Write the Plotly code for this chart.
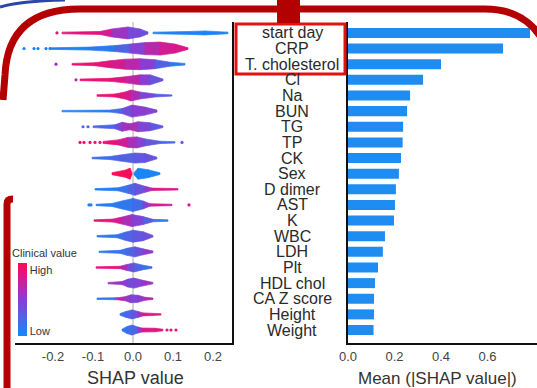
import plotly.graph_objects as go
from plotly.colors import sample_colorscale

W, H = 537, 388

features = ["start day", "CRP", "T. cholesterol", "Cl", "Na", "BUN", "TG", "TP", "CK", "Sex",
            "D dimer", "AST", "K", "WBC", "LDH", "Plt", "HDL chol", "CA Z score", "Height", "Weight"]
mean_abs_shap = [0.783, 0.667, 0.40, 0.323, 0.267, 0.254, 0.237, 0.235, 0.228, 0.219,
                 0.206, 0.202, 0.198, 0.159, 0.150, 0.129, 0.116, 0.112, 0.112, 0.110]

shap_ticks = [-0.2, -0.1, 0.0, 0.1, 0.2]
shap_ticktext = ["-0.2", "-0.1", "0.0", "0.1", "0.2"]
bar_ticks = [0.0, 0.2, 0.4, 0.6, 0.8]
bar_ticktext = ["0.0", "0.2", "0.4", "0.6", "0.8"]

# beeswarm outline knots per feature (SHAP value), None = gap
swarm_x = [
    [-0.1775, -0.0825, -0.0525, -0.0125, 0.0175, 0.0375, None, 0.05, 0.1425, 0.18, 0.2375],
    [-0.2075, -0.1075, -0.045, -0.0075, 0.03, 0.0675, 0.105, 0.1375],
    [-0.1525, -0.095, -0.0575, -0.02, 0.0175, 0.055, 0.0925, 0.13],
    [-0.1325, -0.0575, -0.02, 0.0175, 0.0425, 0.075],
    [-0.09, -0.045, -0.02, -0.005, 0.0175, 0.055, 0.0975],
    [-0.1775, -0.0575, -0.0275, -0.0025, 0.03, 0.06],
    [-0.10, -0.045, -0.0275, -0.0075, 0.0125, 0.0425, 0.075],
    [-0.075, -0.0375, -0.0125, 0.01, 0.03, 0.0675, 0.105],
    [-0.1025, -0.0575, -0.0325, 0.005, 0.03, 0.06],
    [-0.0525, -0.02, -0.0075, -0.0025, None, 0.0025, 0.0125, 0.0375, 0.0675],
    [-0.095, -0.0375, -0.0125, 0.005, 0.03, 0.0475, 0.1125],
    [-0.0925, -0.0525, -0.0275, 0.0, 0.025, 0.0425, 0.0975],
    [-0.0975, -0.05, -0.0275, -0.0025, 0.025, 0.05, 0.0875],
    [-0.09, -0.04, -0.02, 0.0, 0.025, 0.05],
    [-0.085, -0.0325, -0.015, 0.005, 0.025, 0.05],
    [-0.0925, -0.0325, -0.015, 0.0025, 0.0225, 0.0475],
    [-0.0625, -0.0275, -0.0125, 0.0025, 0.0225, 0.05],
    [-0.09, -0.045, -0.04, -0.02, -0.005, 0.0125, 0.03, 0.05],
    [-0.0325, -0.0175, -0.0025, 0.0125, 0.025, 0.07],
    [-0.0275, -0.015, -0.0025, 0.0125, 0.0225, 0.055, 0.075],
]
# half thickness of the swarm at each knot (pixels)
swarm_half = [
    [0.8, 1.5, 4, 6, 4, 1, None, 0.8, 1.5, 2, 0.8],
    [0.8, 1.5, 3, 4.5, 6, 6.5, 4.5, 0.8],
    [0.8, 1.5, 3.5, 5, 5.5, 4.5, 2, 0.8],
    [0.8, 1.5, 3, 5, 5, 0.8],
    [0.8, 1.5, 3.5, 5.5, 3.5, 1.5, 0.6],
    [0.7, 1, 2.5, 6, 4, 1],
    [0.8, 2, 4.5, 3, 5, 4, 0.8],
    [1, 2.5, 5, 5.5, 3.5, 1.2, 0.7],
    [0.7, 1.5, 3, 5, 4.5, 0.8],
    [1, 3.5, 5.5, 1, None, 1, 5.5, 4, 0.8],
    [0.7, 1.5, 4, 6, 3, 1.2, 0.7],
    [0.7, 1.5, 4, 6.5, 4, 1.2, 0.7],
    [0.7, 1.5, 3.5, 6, 4, 1.2, 0.7],
    [0.7, 1.5, 4, 6, 4.5, 0.8],
    [0.7, 1.5, 3.5, 5, 3, 0.8],
    [0.7, 1.2, 3, 4.5, 2.5, 0.7],
    [0.7, 1.5, 4, 5, 3, 0.7],
    [0.7, 1, 1, 2, 4, 3.5, 1.5, 0.7],
    [0.8, 3, 4.5, 3, 1.5, 0.7],
    [0.8, 3.5, 5, 3, 2, 1.8, 0.8],
]
# feature value colour at each knot (0 = low, 1 = high)
swarm_color = [
    [0.9, 0.85, 0.7, 0.45, 0.4, 0.35, None, 0.05, 0.05, 0.05, 0.05],
    [0.05, 0.05, 0.15, 0.35, 0.6, 0.75, 0.8, 0.85],
    [0.9, 0.9, 0.85, 0.75, 0.6, 0.4, 0.15, 0.05],
    [0.9, 0.9, 0.8, 0.6, 0.4, 0.3],
    [0.9, 0.9, 0.85, 0.75, 0.55, 0.35, 0.2],
    [0.05, 0.1, 0.3, 0.5, 0.5, 0.45],
    [0.15, 0.3, 0.5, 0.7, 0.55, 0.35, 0.3],
    [0.9, 0.85, 0.7, 0.55, 0.4, 0.25, 0.2],
    [0.15, 0.2, 0.25, 0.3, 0.35, 0.35],
    [0.98, 0.98, 0.98, 0.98, None, 0.03, 0.03, 0.03, 0.03],
    [0.05, 0.1, 0.2, 0.3, 0.4, 0.7, 0.9],
    [0.1, 0.1, 0.1, 0.15, 0.25, 0.7, 0.85],
    [0.9, 0.85, 0.7, 0.55, 0.4, 0.2, 0.1],
    [0.1, 0.15, 0.2, 0.3, 0.35, 0.4],
    [0.1, 0.15, 0.2, 0.3, 0.45, 0.6],
    [0.9, 0.85, 0.5, 0.3, 0.2, 0.15],
    [0.6, 0.55, 0.45, 0.4, 0.5, 0.65],
    [0.1, 0.15, 0.75, 0.6, 0.45, 0.45, 0.6, 0.75],
    [0.15, 0.2, 0.3, 0.4, 0.8, 0.9],
    [0.1, 0.15, 0.2, 0.3, 0.8, 0.85, 0.9],
]
# isolated points
dot_x = [
    [-0.19], [-0.2725, -0.2475, -0.2375, -0.2175, -0.2075], [-0.1925], [-0.1425], [], [],
    [-0.125, -0.1125], [-0.1325, -0.1225, -0.1075, -0.095, -0.0825, 0.1225], [], [],
    [], [-0.11, -0.105, 0.14], [], [], [], [], [], [], [], [0.085, 0.095, 0.1075],
]
dot_c = [
    [0.9], [0.05, 0.05, 0.05, 0.05, 0.05], [0.6], [0.7], [], [],
    [0.2, 0.2], [0.95, 0.95, 0.95, 0.9, 0.9, 0.3], [], [],
    [], [0.1, 0.1, 0.85], [], [], [], [], [], [], [], [0.9, 0.9, 0.9],
]

CS = [[0.0, "#138af7"], [0.5, "#8a3dd2"], [0.8, "#d8198e"], [1.0, "#ff0a55"]]
BAR_COLOR = "#1e8cf0"
FONT = "Liberation Sans, Arial, sans-serif"

# layout geometry (pixels)
PLOT_TOP, PLOT_BOT = 22, 343
Y_RANGE = [-0.83, 19.7]
ROW_PX = (PLOT_BOT - PLOT_TOP) / (Y_RANGE[1] - Y_RANGE[0])

n = len(features)
ypos = [n - 1 - i for i in range(n)]

fig = go.Figure()

# beeswarm bodies
for i in range(n):
    xs, hs, cs = swarm_x[i], swarm_half[i], swarm_color[i]
    yc = ypos[i]
    for k in range(len(xs) - 1):
        if xs[k] is None or xs[k + 1] is None:
            continue
        h0, h1 = hs[k] / ROW_PX, hs[k + 1] / ROW_PX
        col = sample_colorscale(CS, [(cs[k] + cs[k + 1]) / 2])[0]
        fig.add_trace(go.Scatter(
            x=[xs[k], xs[k + 1], xs[k + 1], xs[k], xs[k]],
            y=[yc - h0, yc - h1, yc + h1, yc + h0, yc - h0],
            mode="lines", fill="toself", fillcolor=col,
            line=dict(color=col, width=0.7),
            hoverinfo="skip", showlegend=False, xaxis="x", yaxis="y"))
    if dot_x[i]:
        fig.add_trace(go.Scatter(
            x=dot_x[i], y=[yc] * len(dot_x[i]), mode="markers",
            marker=dict(size=3.2, color=dot_c[i], colorscale=CS, cmin=0, cmax=1),
            hoverinfo="skip", showlegend=False, xaxis="x", yaxis="y"))

# colour bar (legend for feature value)
fig.add_trace(go.Scatter(
    x=[0], y=[-50], mode="markers",
    marker=dict(size=1, color=[0], colorscale=CS, cmin=0, cmax=1, showscale=True,
                colorbar=dict(x=18 / W, xanchor="left", y=(H - 299.5) / H, yanchor="middle",
                              len=73, lenmode="pixels", thickness=9, thicknessmode="pixels",
                              outlinewidth=0, xpad=0, ypad=0,
                              tickvals=[0.06, 0.9], ticktext=["Low", "High"], ticks="",
                              tickfont=dict(family=FONT, size=11, color="#333"))),
    hoverinfo="skip", showlegend=False, xaxis="x", yaxis="y"))

# bar chart
fig.add_trace(go.Bar(
    x=mean_abs_shap, y=ypos, orientation="h", width=0.64,
    marker=dict(color=BAR_COLOR, line=dict(width=0)),
    hoverinfo="skip", showlegend=False, xaxis="x2", yaxis="y2"))

ydom = [(H - PLOT_BOT) / H, (H - PLOT_TOP) / H]
axis_common = dict(showgrid=False, zeroline=False, showline=True, linecolor="#111", linewidth=2,
                   ticks="", tickfont=dict(family=FONT, size=13, color="#444"))

fig.update_layout(
    width=W, height=H, margin=dict(l=0, r=0, t=0, b=0, autoexpand=False),
    paper_bgcolor="white", plot_bgcolor="white",
    font=dict(family=FONT, color="#333"),
    xaxis=dict(domain=[15 / W, 232 / W], range=[-0.295, 0.2475], anchor="y",
               tickvals=shap_ticks, ticktext=shap_ticktext, **axis_common),
    yaxis=dict(domain=ydom, range=Y_RANGE, anchor="x", side="right",
               showticklabels=False, showgrid=False, zeroline=False,
               showline=True, linecolor="#111", linewidth=2, ticks=""),
    xaxis2=dict(domain=[348 / W, 1.0], range=[0, 0.813], anchor="y2",
                tickvals=bar_ticks, ticktext=bar_ticktext, **axis_common),
    yaxis2=dict(domain=ydom, range=Y_RANGE, anchor="x2", side="left",
                showticklabels=False, showgrid=False, zeroline=False,
                showline=True, linecolor="#111", linewidth=2, ticks=""),
)

# zero line of the beeswarm
fig.add_shape(type="line", xref="x", yref="paper", x0=0, x1=0, y0=ydom[0], y1=ydom[1],
              line=dict(color="#aaaaaa", width=1), layer="below")

# feature labels
for i in range(n):
    fig.add_annotation(x=292 / W, xref="paper", y=ypos[i], yref="y2", text=features[i],
                       showarrow=False, xanchor="center", yanchor="middle", borderpad=0,
                       font=dict(family=FONT, size=16, color="#2a2a2a"))

# axis titles & legend title
fig.add_annotation(x=135 / W, y=(H - 378) / H, xref="paper", yref="paper", text="SHAP value",
                   showarrow=False, xanchor="center", yanchor="middle",
                   font=dict(family=FONT, size=18, color="#333"))
fig.add_annotation(x=437 / W, y=(H - 378) / H, xref="paper", yref="paper",
                   text="Mean (|SHAP value|)", showarrow=False, xanchor="center", yanchor="middle",
                   font=dict(family=FONT, size=17, color="#333"))
fig.add_annotation(x=44 / W, y=(H - 253) / H, xref="paper", yref="paper", text="Clinical value",
                   showarrow=False, xanchor="center", yanchor="middle",
                   font=dict(family=FONT, size=11, color="#333"))


def P(x, y):
    return f"{x / W:.5f},{1 - y / H:.5f}"


# highlight box around top three labels
fig.add_shape(type="rect", xref="paper", yref="paper", x0=236 / W, x1=345 / W,
              y0=1 - 74 / H, y1=1 - 24 / H, line=dict(color="#e31212", width=3))

# decorative frame
DARK_RED = "#b30000"
fig.add_shape(type="path", xref="paper", yref="paper",
              path=f"M {P(3, 100)} L {P(5, 75)} Q {P(8, 9)} {P(80, 9)} L {P(485, 9)} Q {P(528, 9)} {P(545, 45)}",
              line=dict(color=DARK_RED, width=7))
fig.add_shape(type="rect", xref="paper", yref="paper", x0=277 / W, x1=300 / W,
              y0=1 - 23 / H, y1=1.0, line=dict(width=0), fillcolor=DARK_RED)
fig.add_shape(type="path", xref="paper", yref="paper",
              path=f"M {P(7, 388)} L {P(7, 204)} Q {P(7, 199)} {P(13, 199)}",
              line=dict(color=DARK_RED, width=7))
fig.add_shape(type="path", xref="paper", yref="paper",
              path=f"M {P(0, 7)} Q {P(20, 1)} {P(65, 0)}",
              line=dict(color="#2c46a8", width=3))

fig.write_html("out.html", config={"displayModeBar": False},
               post_script="document.body.style.margin='0';document.body.style.overflow='hidden';")
